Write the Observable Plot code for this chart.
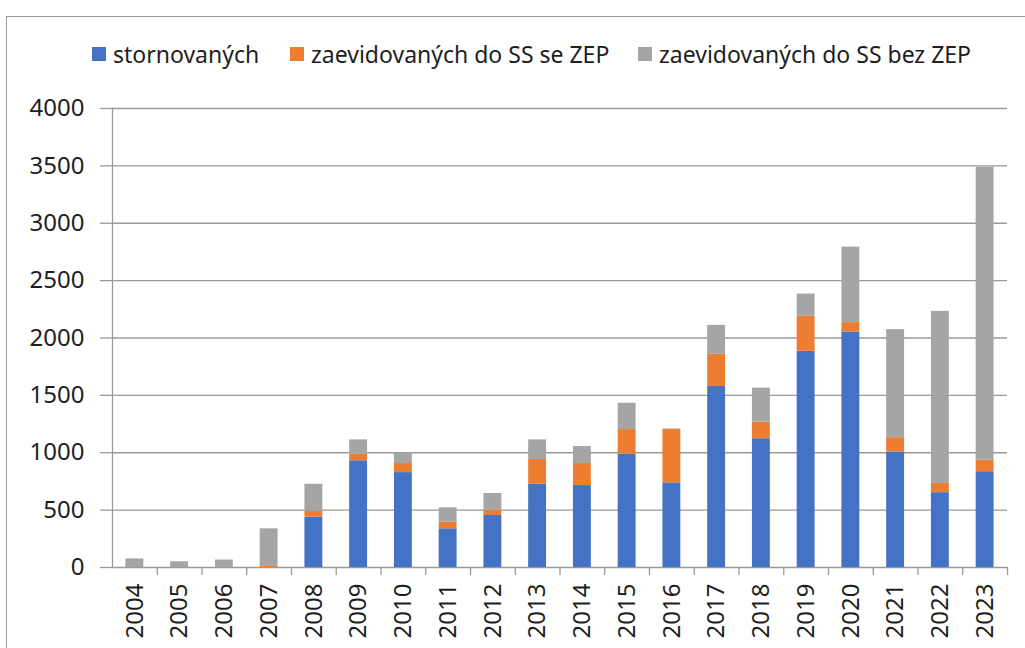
<!DOCTYPE html>
<html>
<head>
<meta charset="utf-8">
<script src="https://cdn.jsdelivr.net/npm/d3@7"></script>
<script src="https://cdn.jsdelivr.net/npm/@observablehq/plot@0.6"></script>
<style>
  html, body { margin: 0; padding: 0; background: #fff; width: 1025px; height: 648px; overflow: hidden; }
  #wrap { position: relative; width: 1025px; height: 648px; font-family: "Noto Sans", sans-serif; }
  #frame { position: absolute; left: 6px; top: 16px; width: 1040px; height: 700px; border: 1.5px solid #9a9a9a; box-sizing: border-box; }
  #chart { position: absolute; left: 0; top: 0; }
  .leg { position: absolute; top: 39px; height: 30px; display: flex; align-items: center; font-size: 23px; color: #1e1e1e; white-space: nowrap; }
  .sw { width: 14px; height: 14px; margin-right: 7px; }
</style>
</head>
<body>
<div id="wrap">
  <div id="frame"></div>
  <div id="chart"></div>
  <div id="legend"></div>
</div>
<script>
const years = [2004, 2005, 2006, 2007, 2008, 2009, 2010, 2011, 2012, 2013, 2014, 2015, 2016, 2017, 2018, 2019, 2020, 2021, 2022, 2023];
const stornovanych = [0, 0, 0, 0, 438, 930, 827, 337, 453, 726, 714, 987, 738, 1577, 1122, 1884, 2052, 1006, 652, 835];
const seZEP = [0, 0, 0, 15, 50, 57, 79, 58, 46, 215, 192, 215, 464, 281, 145, 305, 82, 125, 81, 101];
const bezZEP = [75, 50, 65, 322, 238, 125, 87, 125, 146, 171, 148, 229, 5, 252, 296, 194, 658, 942, 1499, 2552];
const seriesNames = ["stornovaných", "zaevidovaných do SS se ZEP", "zaevidovaných do SS bez ZEP"];
const seriesColors = ["#4472C4", "#ED7D31", "#A5A5A5"];
const yTicks = [0, 500, 1000, 1500, 2000, 2500, 3000, 3500, 4000];

const seriesValues = [stornovanych, seZEP, bezZEP];
const rows = [];
years.forEach((yr, i) => {
  let base = 0;
  seriesValues.forEach((vals, s) => {
    rows.push({year: yr, series: seriesNames[s], y1: base, y2: base + vals[i]});
    base += vals[i];
  });
});
const boundaries = years.map(y => y + 0.5);

const plot = Plot.plot({
  width: 1025,
  height: 648,
  marginTop: 108,
  marginBottom: 81,
  marginLeft: 112,
  marginRight: 18,
  style: {fontFamily: "Noto Sans, sans-serif", fontSize: "24px", color: "#1e1e1e", background: "transparent"},
  x: {type: "linear", domain: [years[0] - 0.5, years[years.length - 1] + 0.5]},
  y: {domain: [0, 4000]},
  color: {domain: seriesNames, range: seriesColors},
  marks: [
    Plot.gridY(yTicks, {stroke: "#9a9a9a", strokeOpacity: 1, strokeWidth: 1.3}),
    Plot.rect(rows, {
      x1: d => d.year - 0.2,
      x2: d => d.year + 0.2,
      y1: "y1",
      y2: "y2",
      fill: "series"
    }),
    Plot.frame({anchor: "left", stroke: "#9a9a9a", strokeWidth: 1.3}),
    Plot.axisY({ticks: yTicks, tickSize: 12, tickPadding: 16, tickFormat: d => String(d), stroke: "#9a9a9a", strokeWidth: 1.3, label: null, fontSize: 24}),
    Plot.axisX({ticks: boundaries, tickSize: 8, tickFormat: () => "", stroke: "#9a9a9a", strokeWidth: 1.3, label: null}),
    Plot.axisX({ticks: years, tickSize: 0, tickPadding: 16, tickRotate: -90, tickFormat: d => String(d), label: null, fontSize: 24})
  ]
});
document.getElementById("chart").appendChild(plot);

const legendLefts = [92, 290, 638];
const legend = document.getElementById("legend");
seriesNames.forEach((name, i) => {
  const item = document.createElement("div");
  item.className = "leg";
  item.style.left = legendLefts[i] + "px";
  const sw = document.createElement("span");
  sw.className = "sw";
  sw.style.background = seriesColors[i];
  const tx = document.createElement("span");
  tx.textContent = name;
  item.appendChild(sw);
  item.appendChild(tx);
  legend.appendChild(item);
});
</script>
</body>
</html>
